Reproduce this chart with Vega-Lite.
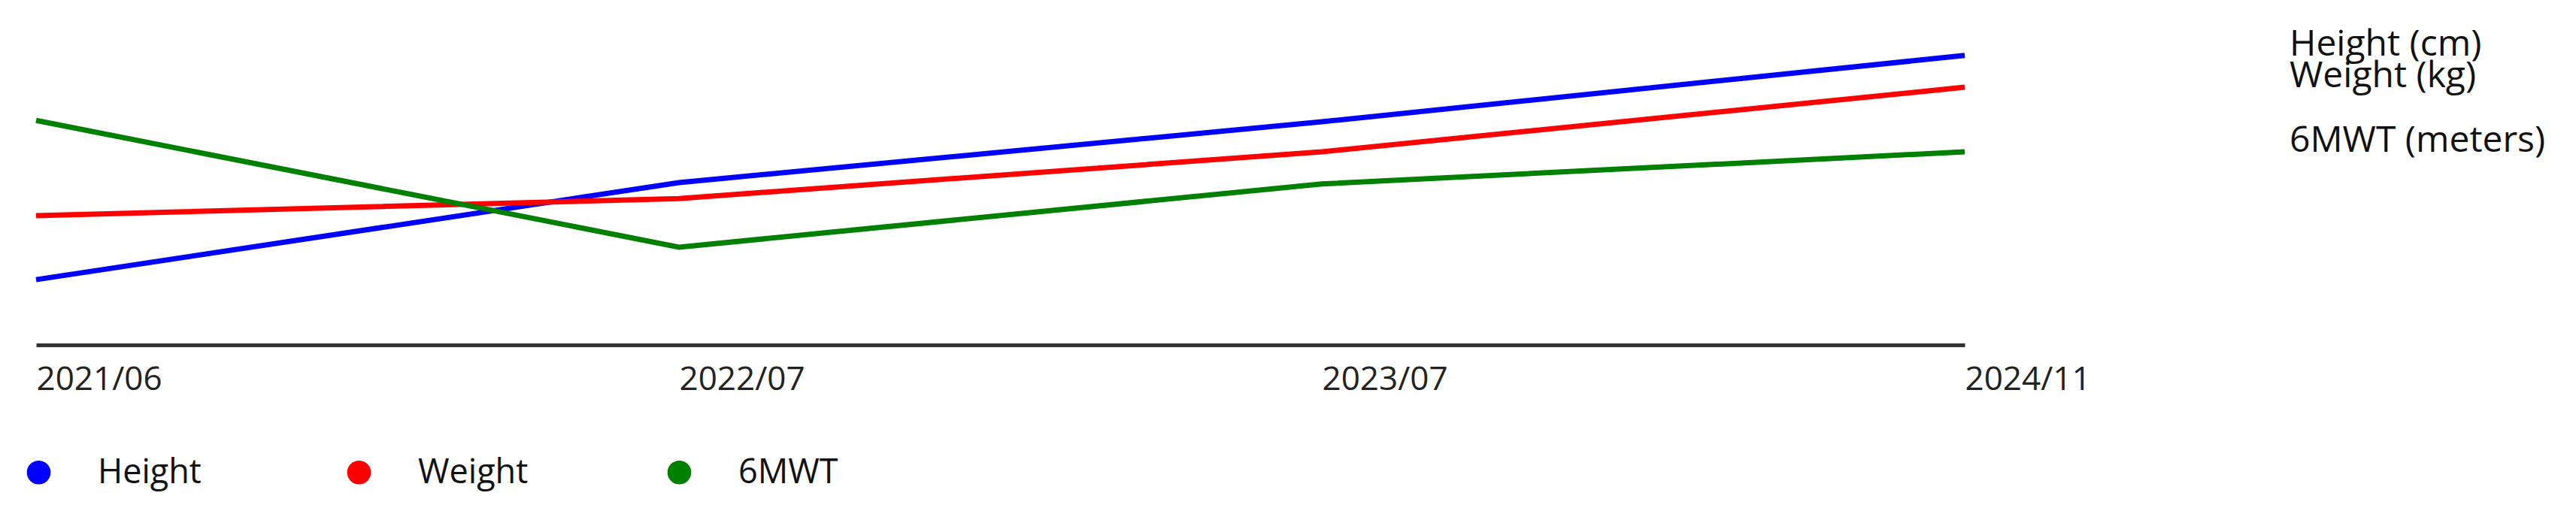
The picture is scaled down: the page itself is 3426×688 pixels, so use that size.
{
  "$schema": "https://vega.github.io/schema/vega-lite/v6.json",
  "width": 2565,
  "height": 450,
  "autosize": {"type": "none"},
  "padding": {"left": 48, "top": 9, "right": 813, "bottom": 229},
  "background": "white",
  "config": {"font": "Open Sans", "view": {"stroke": null}},
  "data": {
    "values": [
      {"date": "2021/06", "series": "Height", "unit": "Height (cm)", "value": 19.3},
      {"date": "2022/07", "series": "Height", "unit": "Height (cm)", "value": 48},
      {"date": "2023/07", "series": "Height", "unit": "Height (cm)", "value": 66},
      {"date": "2024/11", "series": "Height", "unit": "Height (cm)", "value": 85.6},
      {"date": "2021/06", "series": "Weight", "unit": "Weight (kg)", "value": 38.2},
      {"date": "2022/07", "series": "Weight", "unit": "Weight (kg)", "value": 43.3},
      {"date": "2023/07", "series": "Weight", "unit": "Weight (kg)", "value": 57.1},
      {"date": "2024/11", "series": "Weight", "unit": "Weight (kg)", "value": 76.2},
      {"date": "2021/06", "series": "6MWT", "unit": "6MWT (meters)", "value": 66.4},
      {"date": "2022/07", "series": "6MWT", "unit": "6MWT (meters)", "value": 28.9},
      {"date": "2023/07", "series": "6MWT", "unit": "6MWT (meters)", "value": 47.6},
      {"date": "2024/11", "series": "6MWT", "unit": "6MWT (meters)", "value": 57.1}
    ]
  },
  "encoding": {
    "x": {
      "field": "date",
      "type": "ordinal",
      "sort": null,
      "scale": {"type": "point", "padding": 0},
      "axis": {
        "title": null,
        "labelAngle": 0,
        "labelAlign": "left",
        "labelFontSize": 44,
        "labelColor": "#222",
        "labelPadding": 24,
        "labelFlush": false,
        "labelOverlap": false,
        "domainColor": "#333",
        "domainWidth": 5,
        "ticks": false,
        "grid": false
      }
    },
    "y": {
      "field": "value",
      "type": "quantitative",
      "scale": {"domain": [0, 100]},
      "axis": null
    }
  },
  "layer": [
    {
      "mark": {"type": "line", "strokeWidth": 7},
      "encoding": {
        "color": {
          "field": "series",
          "type": "nominal",
          "scale": {
            "domain": ["Height", "Weight", "6MWT"],
            "range": ["#0000ff", "#ff0000", "#008000"]
          },
          "legend": {
            "title": null,
            "orient": "none",
            "legendX": -19,
            "legendY": 597,
            "direction": "horizontal",
            "columns": 3,
            "gridAlign": "all",
            "symbolType": "circle",
            "symbolSize": 1000,
            "symbolStrokeWidth": 0,
            "labelFontSize": 45,
            "labelOffset": 56,
            "labelColor": "#111",
            "columnPadding": 178,
            "encode": {
              "symbols": {
                "update": {
                  "fill": {"scale": "color", "field": "value"},
                  "stroke": {"value": "transparent"}
                }
              }
            }
          }
        }
      }
    },
    {
      "transform": [{"filter": "datum.date == '2024/11'"}],
      "mark": {
        "type": "text",
        "align": "left",
        "baseline": "alphabetic",
        "dx": 432,
        "fontSize": 48,
        "color": "#111"
      },
      "encoding": {"text": {"field": "unit"}}
    }
  ]
}
